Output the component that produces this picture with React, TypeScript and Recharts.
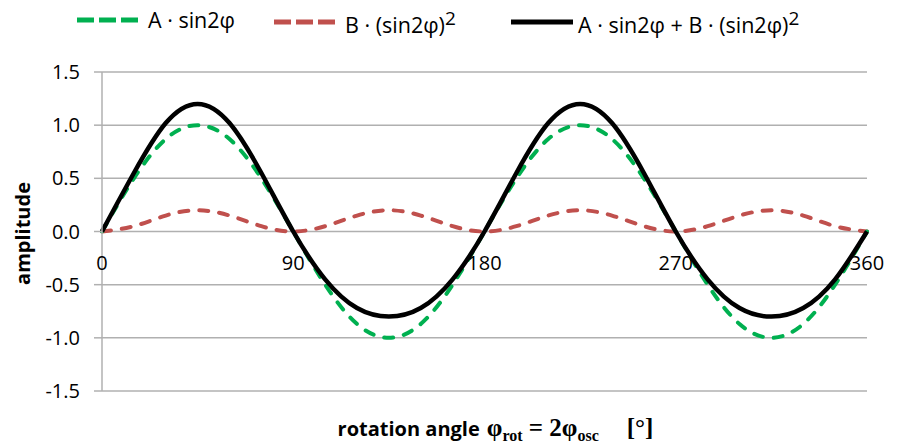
import React from 'react';
import { LineChart, Line, XAxis, YAxis, CartesianGrid, ReferenceDot } from 'recharts';

// rotation angle in degrees, sampled every 15°
const angles = [0, 15, 30, 45, 60, 75, 90, 105, 120, 135, 150, 165, 180, 195, 210, 225, 240, 255, 270, 285, 300, 315, 330, 345, 360];
// A · sin2φ (green)
const sinTerm = [0, 0.5, 0.87, 1, 0.87, 0.5, 0, -0.5, -0.87, -1, -0.87, -0.5, 0, 0.5, 0.87, 1, 0.87, 0.5, 0, -0.5, -0.87, -1, -0.87, -0.5, 0];
// B · (sin2φ)^2 (red)
const squareTerm = [0, 0.05, 0.15, 0.2, 0.15, 0.05, 0, 0.05, 0.15, 0.2, 0.15, 0.05, 0, 0.05, 0.15, 0.2, 0.15, 0.05, 0, 0.05, 0.15, 0.2, 0.15, 0.05, 0];
// A · sin2φ + B · (sin2φ)^2 (black)
const sumTerm = [0, 0.55, 1.02, 1.2, 1.02, 0.55, 0, -0.45, -0.72, -0.8, -0.72, -0.45, 0, 0.55, 1.02, 1.2, 1.02, 0.55, 0, -0.45, -0.72, -0.8, -0.72, -0.45, 0];

const xTicks = [0, 90, 180, 270, 360];
const yTicks = [-1.5, -1, -0.5, 0, 0.5, 1, 1.5];

const data = angles.map((angle, i) => ({
  angle,
  a: sinTerm[i],
  b: squareTerm[i],
  ab: sumTerm[i],
}));

const FONT = '"Open Sans", sans-serif';
const SERIF = '"Liberation Serif", "Times New Roman", serif';
const GRID = '#b0b0b0';
const GREEN = '#00b050';
const RED = '#c0504d';

function XTitle(props: any) {
  const { viewBox } = props;
  const cx = viewBox.x + viewBox.width / 2 + 11;
  const y = viewBox.y + 45;
  return (
    <text x={cx} y={y} textAnchor="middle" fill="#000" fontWeight="bold">
      <tspan fontFamily={FONT} fontSize={20}>rotation angle</tspan>
      <tspan fontFamily={SERIF} fontSize={25} dx={7}>φ</tspan>
      <tspan fontFamily={SERIF} fontSize={16} dy={5}>rot</tspan>
      <tspan fontFamily={SERIF} fontSize={25} dy={-5}> = 2φ</tspan>
      <tspan fontFamily={SERIF} fontSize={16} dy={5}>osc</tspan>
      <tspan fontFamily={SERIF} fontSize={25} dy={-5} dx={28}>[°]</tspan>
    </text>
  );
}

function YTitle(props: any) {
  const { viewBox } = props;
  const x = viewBox.x - 10;
  const y = viewBox.y + viewBox.height / 2 + 2;
  return (
    <text
      x={x}
      y={y}
      transform={`rotate(-90, ${x}, ${y})`}
      textAnchor="middle"
      fontFamily={FONT}
      fontSize={20}
      fontWeight="bold"
      fill="#000"
    >
      amplitude
    </text>
  );
}

function LegendSample({ color, dashed }: { color: string; dashed: boolean }) {
  return (
    <svg width={62} height={10} style={{ display: 'block' }}>
      <line
        x1={0}
        y1={5}
        x2={62}
        y2={5}
        stroke={color}
        strokeWidth={5}
        strokeDasharray={dashed ? '17 5' : undefined}
      />
    </svg>
  );
}

const itemStyle: React.CSSProperties = {
  position: 'absolute',
  top: 5,
  display: 'flex',
  alignItems: 'center',
  gap: 9,
  fontFamily: FONT,
  fontSize: 21.5,
  color: '#000',
  whiteSpace: 'nowrap',
};

function ChartLegend() {
  return (
    <>
      <div style={{ ...itemStyle, left: 77 }}>
        <LegendSample color={GREEN} dashed />
        <span>A · sin2φ</span>
      </div>
      <div style={{ ...itemStyle, left: 274 }}>
        <LegendSample color={RED} dashed />
        <span>
          B · (sin2φ)<sup style={{ fontSize: 19 }}>2</sup>
        </span>
      </div>
      <div style={{ ...itemStyle, left: 511, gap: 5 }}>
        <LegendSample color="#000" dashed={false} />
        <span>
          A · sin2φ + B · (sin2φ)<sup style={{ fontSize: 19 }}>2</sup>
        </span>
      </div>
    </>
  );
}

export default function App() {
  return (
    <div style={{ position: 'absolute', left: 0, top: 0, width: 898, height: 443, background: '#fff' }}>
      <LineChart
        width={898}
        height={443}
        data={data}
        margin={{ top: 72, right: 31, left: 40, bottom: 0 }}
      >
        <CartesianGrid vertical={false} stroke={GRID} strokeWidth={1.5} />
        <XAxis
          dataKey="angle"
          type="number"
          domain={[0, 360]}
          ticks={xTicks}
          tick={false}
          axisLine={false}
          tickLine={false}
          height={52}
          label={{ content: <XTitle /> }}
        />
        <YAxis
          type="number"
          domain={[-1.5, 1.5]}
          ticks={yTicks}
          width={62}
          tickFormatter={(v: number) => v.toFixed(1)}
          tick={{ fontFamily: FONT, fontSize: 20, fill: '#000' }}
          tickSize={8}
          tickMargin={14}
          axisLine={{ stroke: GRID, strokeWidth: 1.5 }}
          tickLine={{ stroke: GRID, strokeWidth: 1.5 }}
          label={{ content: <YTitle /> }}
        />
        {xTicks.map((t) => (
          <ReferenceDot
            key={t}
            x={t}
            y={0}
            r={0}
            fill="none"
            stroke="none"
            label={{
              value: String(t),
              position: 'bottom',
              offset: 24,
              fontFamily: FONT,
              fontSize: 20,
              fill: '#000',
            }}
          />
        ))}
        <Line
          type="natural"
          dataKey="b"
          stroke={RED}
          strokeWidth={4}
          strokeDasharray="9 11"
          strokeLinecap="round"
          dot={false}
          isAnimationActive={false}
        />
        <Line
          type="natural"
          dataKey="a"
          stroke={GREEN}
          strokeWidth={4}
          strokeDasharray="9 11"
          strokeLinecap="round"
          dot={false}
          isAnimationActive={false}
        />
        <Line
          type="natural"
          dataKey="ab"
          stroke="#000"
          strokeWidth={4.5}
          dot={false}
          isAnimationActive={false}
        />
      </LineChart>
      <ChartLegend />
    </div>
  );
}
